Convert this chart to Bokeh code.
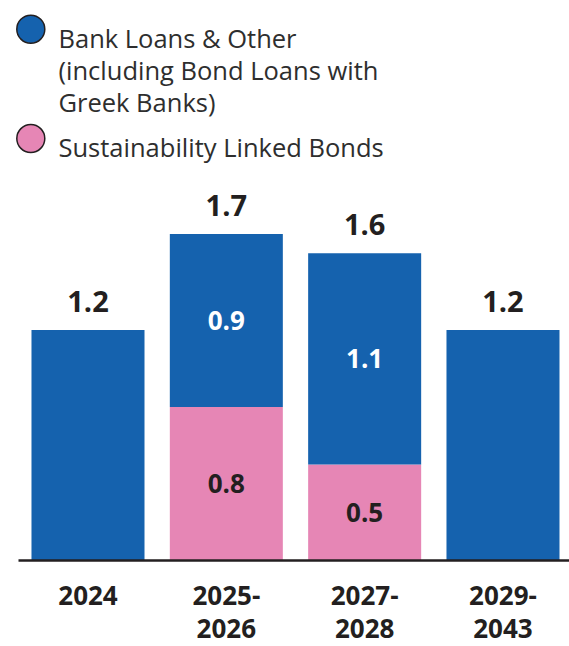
from bokeh.plotting import figure
from bokeh.layouts import column
from bokeh.models import Range1d, ColumnDataSource, BoxAnnotation
from bokeh.core.properties import value
from bokeh.embed import file_html
from bokeh.resources import INLINE

# ---- data ----
categories = ["2024", "2025-2026", "2027-2028", "2029-2043"]
tick_labels = ["2024", "2025-\n2026", "2027-\n2028", "2029-\n2043"]
bank_loans = [1.2, 0.9, 1.1, 1.2]
sll_bonds = [0.0, 0.8, 0.5, 0.0]
totals = [1.2, 1.7, 1.6, 1.2]
series_names = ["Bank Loans & Other\n(including Bond Loans with\nGreek Banks)",
                "Sustainability Linked Bonds"]

# ---- style ----
BLUE = "#1562ae"
PINK = "#e686b5"
DARK = "#231f20"
LEGEND_TEXT = "#2e2e2e"
FONT = value("Open Sans")
W = 569
PX_PER_UNIT = 192.0

n = len(categories)
xs = list(range(n))

# ---- legend figure (pixel layout) ----
LH = 168
lg = figure(width=W, height=LH, x_range=Range1d(0, W), y_range=Range1d(LH, 0),
            output_backend="svg", toolbar_location=None,
            x_axis_location=None, y_axis_location=None,
            min_border=0, outline_line_color=None)
lg.xgrid.visible = False
lg.ygrid.visible = False

circle_y = [28.7, 138.0]
first_baseline = [37.0, 146.3]
line_step = 32.2
lg.scatter(x=[30.3] * 2, y=circle_y, size=28, marker="circle",
           fill_color=[BLUE, PINK], line_color=DARK, line_width=1.5)
lx, ly, lt = [], [], []
for name, b0 in zip(series_names, first_baseline):
    for k, line in enumerate(name.split("\n")):
        lx.append(58)
        ly.append(b0 + k * line_step)
        lt.append(line)
lg.text(x=lx, y=ly, text=lt, text_font=FONT, text_font_size="25.5px",
        text_color=LEGEND_TEXT, text_baseline="alphabetic", text_align="left")

# ---- chart figure ----
CH = 478
p = figure(width=W, height=CH, x_range=Range1d(-0.6325, 3.4808),
           y_range=Range1d(-86 / PX_PER_UNIT, 392 / PX_PER_UNIT),
           output_backend="svg", toolbar_location=None,
           x_axis_location=None, y_axis_location=None,
           min_border=0, outline_line_color=None)
p.xgrid.visible = False
p.ygrid.visible = False

src = ColumnDataSource(dict(x=xs, sll=sll_bonds, bank=bank_loans))
p.vbar_stack(["sll", "bank"], x="x", width=0.817, source=src,
             fill_color=[PINK, BLUE], line_color=None)

# baseline (axis line) starting a little to the right of the left edge
p.add_layout(BoxAnnotation(left=18, left_units="screen",
                           bottom=-1.3 / PX_PER_UNIT, top=1.3 / PX_PER_UNIT,
                           fill_color=DARK, fill_alpha=1.0, line_color=None))

# segment labels
bx, by, bt = [], [], []
px_, py_, pt_ = [], [], []
for i in range(n):
    if sll_bonds[i] > 0:
        px_.append(xs[i]); py_.append(sll_bonds[i] / 2); pt_.append(f"{sll_bonds[i]:.1f}")
        bx.append(xs[i]); by.append(sll_bonds[i] + bank_loans[i] / 2); bt.append(f"{bank_loans[i]:.1f}")
p.text(x=bx, y=by, text=bt, text_font=FONT, text_font_size="26px", text_font_style="bold",
       text_color="white", text_align="center", text_baseline="middle")
p.text(x=px_, y=py_, text=pt_, text_font=FONT, text_font_size="26px", text_font_style="bold",
       text_color=DARK, text_align="center", text_baseline="middle")

# totals
p.text(x=xs, y=totals, text=[f"{t:.1f}" for t in totals], y_offset=-29,
       text_font=FONT, text_font_size="29px", text_font_style="bold",
       text_color=DARK, text_align="center", text_baseline="middle")

# category labels
cx, cy, ct, co = [], [], [], []
for i, lab in enumerate(tick_labels):
    for k, line in enumerate(lab.split("\n")):
        cx.append(xs[i]); cy.append(0); ct.append(line); co.append(35 + k * 33)
p.text(x=cx, y=cy, text=ct, y_offset=co, text_font=FONT, text_font_size="26px",
       text_font_style="bold", text_color=DARK, text_align="center", text_baseline="middle")

layout = column(lg, p, spacing=0)
open("out.html", "w").write(file_html(layout, INLINE))
